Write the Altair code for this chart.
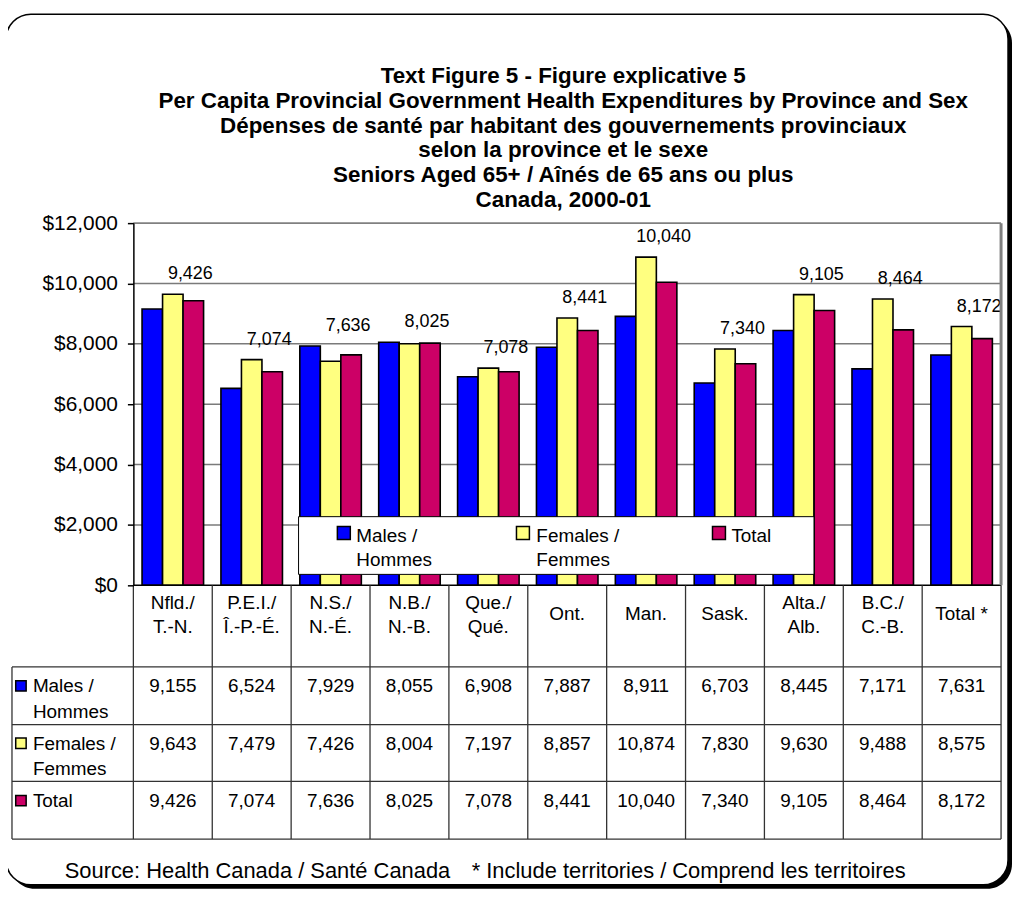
import altair as alt
import pandas as pd

# ---------------- data ----------------
categories = ["Nfld./\nT.-N.", "P.E.I./\nÎ.-P.-É.", "N.S./\nN.-É.", "N.B./\nN.-B.",
              "Que./\nQué.", "Ont.", "Man.", "Sask.", "Alta./\nAlb.", "B.C./\nC.-B.", "Total *"]
series_names = ["Males /\nHommes", "Females /\nFemmes", "Total"]
males = [9155, 6524, 7929, 8055, 6908, 7887, 8911, 6703, 8445, 7171, 7631]
females = [9643, 7479, 7426, 8004, 7197, 8857, 10874, 7830, 9630, 9488, 8575]
totals = [9426, 7074, 7636, 8025, 7078, 8441, 10040, 7340, 9105, 8464, 8172]
y_ticks = [0, 2000, 4000, 6000, 8000, 10000, 12000]
colors = ["#0000FF", "#FFFF80", "#CC0066"]
title_lines = [
    "Text Figure 5 - Figure explicative 5",
    "Per Capita Provincial Government Health Expenditures by Province and Sex",
    "Dépenses de santé par habitant des gouvernements provinciaux",
    "selon la province et le sexe",
    "Seniors Aged 65+ / Aînés de 65 ans ou plus",
    "Canada, 2000-01",
]
source_left = "Source: Health Canada / Santé Canada"
source_right = "* Include territories / Comprend les territoires"

FONT = "Liberation Sans"
W, H = 872, 364

rows = []
for i, c in enumerate(categories):
    for s, vals in zip(series_names, [males, females, totals]):
        rows.append({"cat": c, "series": s, "value": vals[i], "label": f"{vals[i]:,}"})
df = pd.DataFrame(rows)
one = pd.DataFrame({"a": [0]})

# ---------------- scales ----------------
xscale = alt.Scale(type="band", domain=categories, paddingInner=0.22, paddingOuter=0.11)
X = alt.X("cat:N", scale=xscale, axis=None)
XOFF = alt.XOffset("series:N", scale=alt.Scale(type="band", domain=series_names,
                                                paddingInner=0, paddingOuter=0))
yscale = alt.Scale(domain=[0, 12000], nice=False, zero=True)
yaxis = alt.Axis(values=y_ticks, format="$,.0f", title=None, grid=False,
                 labelFont=FONT, labelFontSize=21, labelColor="black",
                 tickColor="black", tickSize=6, tickWidth=1.5,
                 domainColor="black", domainWidth=1.5, labelPadding=10, zindex=1)
COLOR = alt.Color("series:N", scale=alt.Scale(domain=series_names, range=colors), legend=None)

# ---------------- frame & title ----------------
shadow = alt.Chart(one).mark_rect(fill="black", cornerRadius=25).encode(
    x=alt.value(-124), x2=alt.value(883), y=alt.value(-206), y2=alt.value(669))
frame = alt.Chart(one).mark_rect(fill="white", stroke="black", strokeWidth=1.5, cornerRadius=25).encode(
    x=alt.value(-128), x2=alt.value(879), y=alt.value(-210), y2=alt.value(665))
title = alt.Chart(one).mark_text(font=FONT, fontSize=22.5, fontWeight="bold", baseline="top",
                                 align="center", lineHeight=25, color="black").encode(
    x=alt.value(432), y=alt.value(-159), text=alt.value(title_lines))
src1 = alt.Chart(one).mark_text(font=FONT, fontSize=22, align="left", baseline="middle", color="black").encode(
    x=alt.value(-69), y=alt.value(651), text=alt.value(source_left))
src2 = alt.Chart(one).mark_text(font=FONT, fontSize=22, align="left", baseline="middle", color="black").encode(
    x=alt.value(340), y=alt.value(651), text=alt.value(source_right))
frame_layer = alt.layer(shadow, frame, title, src1, src2)

# ---------------- plot ----------------
grid = alt.Chart(pd.DataFrame({"value": y_ticks[1:-1]})).mark_rule(color="#7a7a7a", strokeWidth=1.5).encode(
    y=alt.Y("value:Q", scale=yscale, axis=yaxis), x=alt.value(0), x2=alt.value(W))
bars = alt.Chart(df).mark_bar(stroke="black", strokeWidth=1.6).encode(
    x=X, xOffset=XOFF, y=alt.Y("value:Q", scale=yscale, axis=yaxis), color=COLOR)
labels = alt.Chart(df).transform_joinaggregate(
    gmax="max(value)", groupby=["cat"]
).transform_filter(alt.datum.series == "Total").mark_text(
    font=FONT, fontSize=18, baseline="middle", dy=-20, dx=-3, color="black").encode(
    x=X, xOffset=XOFF, y=alt.Y("gmax:Q", scale=yscale, axis=yaxis), text="label:N")
top_border = alt.Chart(one).mark_rule(color="#808080", strokeWidth=2).encode(
    x=alt.value(0), x2=alt.value(W), y=alt.value(0))
right_border = alt.Chart(one).mark_rule(color="#808080", strokeWidth=3).encode(
    x=alt.value(W), y=alt.value(0), y2=alt.value(H))
base_line = alt.Chart(one).mark_rule(color="black", strokeWidth=1.5).encode(
    x=alt.value(0), x2=alt.value(W), y=alt.value(H))
legend_box = alt.Chart(one).mark_rect(fill="white", stroke="black", strokeWidth=1).encode(
    x=alt.value(166), x2=alt.value(684), y=alt.value(295), y2=alt.value(353))
legend_layout = [(211.5, 224), (391.5, 405), (588.5, 601)]
legend_items = []
for name, col, (sx, tx) in zip(series_names, colors, legend_layout):
    legend_items.append(alt.Chart(one).mark_square(size=169, fill=col, stroke="black",
                                                   strokeWidth=1.5, opacity=1).encode(
        x=alt.value(sx), y=alt.value(311.5)))
    legend_items.append(alt.Chart(one).mark_text(font=FONT, fontSize=19, align="left", baseline="top",
                                                 lineBreak="\n", lineHeight=25, color="black").encode(
        x=alt.value(tx), y=alt.value(305), text=alt.value(name)))
plot_layer = alt.layer(grid, top_border, bars, labels, base_line, right_border, legend_box, *legend_items)

# ---------------- table lines ----------------
TL = "#333333"
vlines = alt.Chart(pd.DataFrame({"b": list(range(len(categories) + 1))})).mark_rule(
    color=TL, strokeWidth=1.3).encode(
    x=alt.X("b:Q", scale=alt.Scale(domain=[0, len(categories)], nice=False, zero=False), axis=None),
    y=alt.value(H), y2=alt.value(619))
hl = [alt.Chart(one).mark_rule(color=TL, strokeWidth=1.3).encode(
    x=alt.value(-122), x2=alt.value(W), y=alt.value(yy)) for yy in [446, 504, 561, 619]]
left_border = alt.Chart(one).mark_rule(color=TL, strokeWidth=1.3).encode(
    x=alt.value(-122), y=alt.value(446), y2=alt.value(619))
lines_layer = alt.layer(vlines, left_border, *hl)

# ---------------- table header (category labels, block-centred) ----------------
header_layer = alt.Chart(pd.DataFrame({"cat": categories})).transform_calculate(
    nl="length(split(datum.cat, '\\n'))"
).mark_text(
    font=FONT, fontSize=19, baseline="middle", align="center", lineBreak="\n", lineHeight=24, color="black").encode(
    x=X, y=alt.Y("nl:Q", scale=alt.Scale(domain=[1, 2], range=[393, 382]), axis=None), text="cat:N")

# ---------------- table body ----------------
rowscale = alt.Scale(type="band", domain=series_names, range=[446, 619], paddingInner=0, paddingOuter=0)
values_txt = alt.Chart(df).mark_text(font=FONT, fontSize=19, baseline="top", align="center", color="black").encode(
    x=X, y=alt.Y("series:N", scale=rowscale, axis=None, bandPosition=0.18), text="label:N")
row_txt = alt.Chart(pd.DataFrame({"series": series_names})).mark_text(
    font=FONT, fontSize=19, baseline="top", align="left", lineBreak="\n", lineHeight=26, color="black").encode(
    x=alt.value(-101), y=alt.Y("series:N", scale=rowscale, axis=None, bandPosition=0.18), text="series:N")
row_sq = alt.Chart(pd.DataFrame({"series": series_names})).mark_square(
    size=110, stroke="black", strokeWidth=1.5, opacity=1).encode(
    x=alt.value(-113), y=alt.Y("series:N", scale=rowscale, axis=None, bandPosition=0.33), color=COLOR)
table_layer = alt.layer(values_txt, row_txt, row_sq)

chart = alt.layer(frame_layer, plot_layer, lines_layer, header_layer, table_layer).resolve_scale(
    x="independent", y="independent"
).properties(
    width=W, height=H,
    padding={"left": 126, "top": 214, "right": 12, "bottom": 305},
    autosize=alt.AutoSizeParams(type="none"),
).configure_view(stroke=None).configure(background="white")

chart.save("out.html", embed_options={"renderer": "svg", "actions": False})
